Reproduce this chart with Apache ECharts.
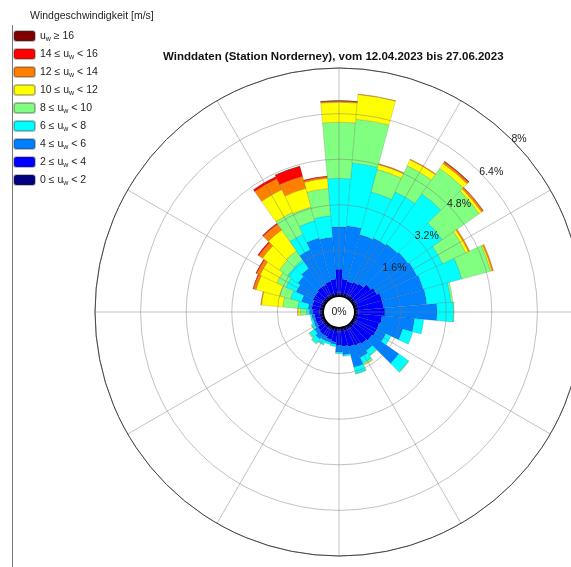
<!DOCTYPE html>
<html>
<head>
<meta charset="utf-8">
<script src="https://cdn.jsdelivr.net/npm/echarts@6/dist/echarts.min.js"></script>
<style>
html, body { margin: 0; padding: 0; background: #fff; }
#rose { width: 571px; height: 567px; }
</style>
</head>
<body>
<div id="rose"></div>
<script>
// Sektoren (Mitte, Grad von Nord im Uhrzeigersinn)
var directions = [0, 10, 20, 30, 40, 50, 60, 70, 80, 90, 100, 110, 120, 130, 140, 150, 160, 170,
                  180, 190, 200, 210, 220, 230, 240, 250, 260, 270, 280, 290, 300, 310, 320, 330, 340, 350];

// Klassengrenzen der Windgeschwindigkeit [m/s]
var speedBins = [0, 2, 4, 6, 8, 10, 12, 14, 16];
var binColors = ['#000080', '#0000ff', '#0080ff', '#00ffff', '#80ff80', '#ffff00', '#ff8000', '#ff0000', '#800000'];

// Haeufigkeit in % je Klasse und Sektor
var u0_2   = [0.12, 0.12, 0.12, 0.12, 0.12, 0.12, 0.12, 0.12, 0.12, 0.12, 0.12, 0.12, 0.12, 0.12, 0.12, 0.12, 0.12, 0.12,
              0.12, 0.12, 0.12, 0.12, 0.12, 0.12, 0.12, 0.12, 0.12, 0.12, 0.12, 0.12, 0.12, 0.12, 0.12, 0.12, 0.12, 0.12];
var u2_4   = [0.82, 0.48, 0.43, 0.48, 0.53, 0.68, 0.78, 0.88, 0.88, 0.93, 0.83, 0.78, 0.78, 0.73, 0.68, 0.63, 0.58, 0.53,
              0.48, 0.38, 0.33, 0.28, 0.28, 0.23, 0.18, 0.18, 0.18, 0.23, 0.28, 0.28, 0.33, 0.33, 0.38, 0.38, 0.43, 0.48];
var u4_6   = [1.49, 1.88, 1.70, 1.70, 1.70, 1.60, 1.55, 1.50, 1.53, 1.83, 1.15, 0.85, 0.35, 1.15, 0.30, 0.45, 0.75, 0.30,
              0.25, 0.08, 0.10, 0.15, 0.20, 0.15, 0.10, 0.08, 0.10, 0.13, 0.13, 0.40, 0.65, 0.75, 0.80, 1.35, 1.58, 1.47];
var u6_8   = [1.70, 2.21, 1.55, 1.79, 2.15, 1.46, 1.00, 1.40, 0.85, 0.58, 0.32, 0.37, 0.20, 0.42, 0.20, 0.22, 0.23, 0.05,
              0.05, 0.08, 0.07, 0.15, 0.18, 0.20, 0.10, 0.07, 0.05, 0.10, 0.36, 0.40, 0.40, 0.45, 0.37, 0.60, 0.62, 0.76];
var u8_10  = [1.97, 1.54, 0.82, 1.01, 1.10, 1.59, 0.90, 1.05, 0.07, 0.02, 0, 0, 0, 0.02, 0.02, 0.06, 0.02, 0,
              0, 0, 0, 0.02, 0.04, 0.04, 0.02, 0, 0, 0.22, 0.53, 0.40, 0.35, 0.35, 0.38, 0.85, 0.50, 0.96];
var u10_12 = [0.70, 0.87, 0.18, 0.23, 0.20, 0.10, 0.10, 0.05, 0, 0, 0, 0, 0, 0, 0, 0.02, 0, 0,
              0, 0, 0, 0, 0, 0, 0, 0, 0, 0.08, 0.75, 0.85, 0.65, 0.72, 0.90, 0.88, 0.68, 0.36];
var u12_14 = [0.04, 0.02, 0.03, 0.03, 0.07, 0.07, 0.05, 0.05, 0, 0, 0, 0, 0, 0, 0, 0, 0, 0,
              0, 0, 0, 0, 0, 0, 0, 0, 0, 0.01, 0.03, 0.10, 0.13, 0.16, 0.25, 0.42, 0.44, 0.05];
var u14_16 = [0.01, 0, 0, 0, 0.02, 0.01, 0, 0, 0, 0, 0, 0, 0, 0, 0, 0, 0, 0,
              0, 0, 0, 0, 0, 0, 0, 0, 0, 0, 0, 0.02, 0.03, 0.04, 0.04, 0.08, 0.36, 0.03];
var u16    = [0.01, 0, 0, 0, 0.01, 0, 0, 0, 0, 0, 0, 0, 0, 0, 0, 0, 0, 0,
              0, 0, 0, 0, 0, 0, 0, 0, 0, 0, 0, 0, 0, 0, 0, 0, 0.01, 0];

var classData = [u0_2, u2_4, u4_6, u6_8, u8_10, u10_12, u12_14, u14_16, u16];

// Radiusachse in %
var rMax = 8;
var rStep = 1.6;

var cx = 339, cy = 312, rIn = 16, rOut = 244;
var fontFam = '"Liberation Sans", Arial, sans-serif';

var names = [];
for (var i = 0; i < speedBins.length; i++) {
    if (i < speedBins.length - 1) {
        names.push(speedBins[i] + ' \u2264 u_w < ' + speedBins[i + 1]);
    } else {
        names.push('u_w \u2265 ' + speedBins[i]);
    }
}

var series = [];
for (var k = 0; k < classData.length; k++) {
    series.push({
        name: names[k],
        type: 'bar',
        coordinateSystem: 'polar',
        polarIndex: 0,
        stack: 'wind',
        barCategoryGap: '0%',
        data: classData[k].map(function (v) { return v > 0 ? v : '-'; }),
        itemStyle: {
            color: binColors[k],
            borderColor: 'rgba(40,40,40,0.3)',
            borderWidth: 0.5
        },
        animation: false
    });
}

var myChart = echarts.init(document.getElementById('rose'));

var option = {
    backgroundColor: '#fff',
    animation: false,
    title: [{
        text: 'Winddaten (Station Norderney), vom 12.04.2023 bis 27.06.2023',
        left: 163,
        top: 51,
        padding: 0,
        textStyle: { fontFamily: fontFam, fontSize: 11.5, fontWeight: 'bold', color: '#111' }
    }, {
        text: 'Windgeschwindigkeit [m/s]',
        left: 30,
        top: 11,
        padding: 0,
        textStyle: { fontFamily: fontFam, fontSize: 10.5, fontWeight: 'normal', color: '#222' }
    }],
    legend: {
        orient: 'vertical',
        left: 13,
        top: 30,
        padding: 0,
        itemWidth: 21,
        itemHeight: 10,
        itemGap: 5,
        data: names.slice().reverse(),
        formatter: function (name) {
            var p = name.split('u_w');
            return '{t|' + p[0] + 'u}{s|w}{t|' + p[1] + '}';
        },
        textStyle: {
            fontFamily: fontFam,
            rich: {
                t: { fontFamily: fontFam, fontSize: 10.5, color: '#222', lineHeight: 14, verticalAlign: 'middle' },
                s: { fontFamily: fontFam, fontSize: 7, color: '#222', lineHeight: 8, verticalAlign: 'bottom' }
            }
        },
        selectedMode: false
    },
    polar: [
        { center: [cx, cy], radius: [rIn, rOut] },
        { center: [cx, cy], radius: [rIn, rOut] },
        { center: [cx, cy], radius: [rIn, rOut] }
    ],
    angleAxis: [{
        polarIndex: 0,
        type: 'category',
        data: directions,
        startAngle: 95,
        clockwise: true,
        boundaryGap: true,
        axisLine: { show: false },
        axisTick: { show: false },
        axisLabel: { show: false },
        splitLine: { show: false }
    }, {
        polarIndex: 1,
        type: 'value',
        min: 0,
        max: 360,
        interval: 30,
        startAngle: 90,
        clockwise: true,
        z: 5,
        axisLine: { show: true, lineStyle: { color: '#444', width: 1 } },
        axisTick: { show: false },
        axisLabel: { show: false },
        splitLine: { show: true, lineStyle: { color: 'rgba(120,120,120,0.45)', width: 1 } }
    }, {
        polarIndex: 2,
        type: 'value',
        min: 0,
        max: 360,
        startAngle: 45,
        show: false
    }],
    radiusAxis: [{
        polarIndex: 0,
        min: 0,
        max: rMax,
        show: false
    }, {
        polarIndex: 1,
        min: 0,
        max: rMax,
        interval: rStep,
        z: 5,
        axisLine: { show: false },
        axisTick: { show: false },
        axisLabel: { show: false },
        splitLine: { show: true, lineStyle: { color: 'rgba(120,120,120,0.45)', width: 1 } }
    }, {
        polarIndex: 2,
        min: 0,
        max: rMax,
        interval: rStep,
        z: 6,
        axisLine: { show: false },
        axisTick: { show: false },
        splitLine: { show: false },
        axisLabel: {
            show: true,
            margin: 0,
            rotate: 0,
            align: 'left',
            verticalAlign: 'middle',
            padding: [0, 0, 4, 0],
            fontFamily: fontFam,
            fontSize: 10.5,
            color: '#222',
            formatter: function (v) {
                return v === 0 ? '' : (+v.toFixed(1)) + '%';
            }
        }
    }],
    graphic: [{
        type: 'circle',
        z: 100,
        shape: { cx: cx, cy: cy, r: rIn },
        style: { fill: '#fff', stroke: '#000', lineWidth: 2 }
    }, {
        type: 'text',
        z: 101,
        x: cx,
        y: cy,
        style: { text: '0%', align: 'center', verticalAlign: 'middle', fontFamily: fontFam, fontSize: 10.5, fill: '#222' }
    }, {
        type: 'line',
        z: 100,
        shape: { x1: 12.5, y1: 25, x2: 12.5, y2: 567 },
        style: { stroke: '#777', lineWidth: 1 }
    }],
    series: series
};

myChart.setOption(option);
</script>
</body>
</html>
